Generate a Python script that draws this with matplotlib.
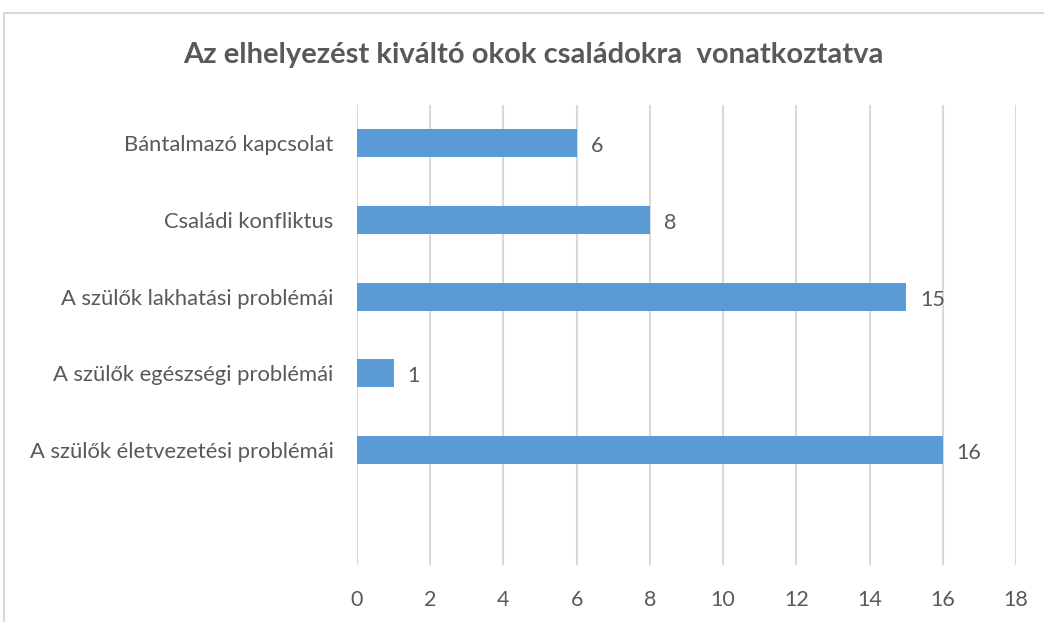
import matplotlib.pyplot as plt
from matplotlib.patches import Rectangle

# data
categories = ['Bántalmazó kapcsolat', 'Családi konfliktus', 'A szülők lakhatási problémái',
              'A szülők egészségi problémái', 'A szülők életvezetési problémái']
values = [6, 8, 15, 1, 16]
xticks = [0, 2, 4, 6, 8, 10, 12, 14, 16, 18]

text_col = '#595959'
bar_col = '#5B9BD5'
grid_col = '#D9D9D9'
plt.rcParams['font.family'] = ['Lato', 'DejaVu Sans']

fig = plt.figure(figsize=(10.44, 6.22), dpi=100)
ax = fig.add_axes([357 / 1044, 1 - 565 / 622, (1016 - 357) / 1044, (565 - 105) / 622])

# one empty slot at the bottom, like the original
ypos = list(range(len(categories)))
ax.barh(ypos, values, height=0.365, color=bar_col, zorder=3)
ax.set_ylim(len(categories) + 0.5, -0.5)
ax.set_yticks(ypos)
ax.set_yticklabels(categories, fontsize=15.8, color=text_col)
ax.set_xlim(0, 18)
ax.set_xticks(xticks)
ax.set_xticklabels([str(t) for t in xticks], fontsize=15.5, color=text_col)
ax.tick_params(axis='both', length=0)
ax.tick_params(axis='y', pad=17)
ax.tick_params(axis='x', pad=18)
ax.grid(axis='x', color=grid_col, linewidth=1.5, zorder=0)
for s in ax.spines.values():
    s.set_visible(False)

for y, v in zip(ypos, values):
    ax.text(v + 0.38, y + 0.04, str(v), va='center', ha='left', fontsize=15.5, color=text_col)

fig.text(533 / 1044, 1 - 55 / 622, 'Az elhelyezést kiváltó okok családokra  vonatkoztatva',
         ha='center', va='center', fontsize=21, fontweight='bold', color=text_col)

# chart border (cut off on the right and bottom)
fig.patches.append(Rectangle((4 / 1044, -0.1), 1.2, 1 - 13 / 622 + 0.1, transform=fig.transFigure,
                             fill=False, edgecolor='#D9D9D9', linewidth=1.5))

fig.savefig('out.png', dpi=100)
